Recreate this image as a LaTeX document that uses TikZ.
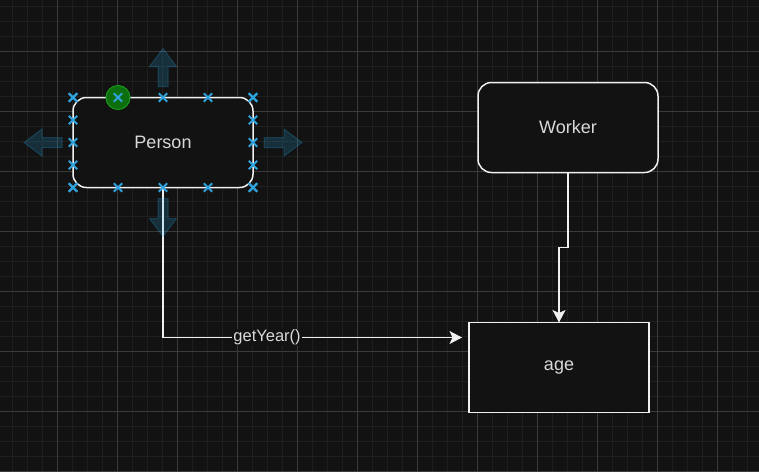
\documentclass[tikz,border=0pt]{standalone}
\usepackage{fontspec}
\setmainfont{Liberation Sans}
\usetikzlibrary{arrows.meta, calc, shapes.misc}

\definecolor{canvasbg}{HTML}{121212}
\definecolor{minorline}{HTML}{1F1F1F}
\definecolor{majorline}{HTML}{3A3A3A}
\definecolor{boxline}{HTML}{F0F0F0}
\definecolor{boxtext}{HTML}{D9D9D9}
\definecolor{selblue}{HTML}{2FA3DE}
\definecolor{hoverblue}{HTML}{29B6F2}
\definecolor{rotgreen}{HTML}{0C6E0C}
\definecolor{rotedge}{HTML}{1A9A1A}

% one of the four blue hover arrows, pointing right from the origin
\newcommand{\hoverarrow}{%
  \filldraw[hover] (11,-5) -- (31,-5) -- (31,-13.5) -- (49,0) -- (31,13.5) -- (31,5) -- (11,5) -- cycle;}

\begin{document}
\begin{tikzpicture}[x=1pt, y=-1pt]
        % Define styles for boxes, connectors and the selection overlay
        \tikzset{
            roundbox/.style={draw=boxline, fill=canvasbg, line width=1.5pt, rounded corners=13.5pt,
                minimum width=180pt, minimum height=90pt, outer sep=0pt, text=boxtext,
                font=\fontsize{18pt}{22pt}\selectfont},
            plainbox/.style={roundbox, rounded corners=0pt},
            edge/.style={draw=boxline, line width=1.5pt,
                -{Stealth[length=12.5pt, width=13pt, inset=3pt]}},
            edgelabel/.style={fill=canvasbg, text=boxtext, inner sep=1pt,
                font=\fontsize{16.5pt}{20pt}\selectfont},
            hover/.style={fill=hoverblue, fill opacity=0.18, draw=hoverblue, draw opacity=0.22, line width=1pt},
            xmark/.style={cross out, draw=selblue, line width=1.8pt, inner sep=0pt, minimum size=6.5pt},
            rothandle/.style={circle, fill=rotgreen, draw=rotedge, line width=1pt, minimum size=24pt, inner sep=0pt}
        }

        % Canvas and grid
        \useasboundingbox (0,0) rectangle (759,472);
        \fill[canvasbg] (0,0) rectangle (759,472);
        \foreach \x in {12.5,27.5,...,759} \draw[minorline, line width=1pt] (\x,0) -- (\x,472);
        \foreach \y in {6.7,21.7,...,472} \draw[minorline, line width=1pt] (0,\y) -- (759,\y);
        \foreach \x in {57.5,117.5,...,759} \draw[majorline, line width=1pt] (\x,0) -- (\x,472);
        \foreach \y in {51.7,111.7,...,472} \draw[majorline, line width=1pt] (0,\y) -- (759,\y);

        % Boxes
        \node[roundbox] (person) at (163,142.5) {Person};
        \node[roundbox] (worker) at (568,127.5) {Worker};
        \node[plainbox] (age) at (559,367.5) {age};
        \coordinate (agein) at ($(age.north west)!1/6!(age.south west)$);

        % Connectors
        \draw[edge, shorten >=7pt] (person.south) |- node[edgelabel, pos=0.67] (getyear) {getYear()} (agein);
        \draw[edge] (worker.south) -- ++(0,75) -| (age.north);

        % Hover arrows round the selected box
        \begin{scope}[shift={(person.east)}]
            \hoverarrow
        \end{scope}
        \begin{scope}[shift={(person.west)}, rotate=180]
            \hoverarrow
        \end{scope}
        \begin{scope}[shift={(person.north)}, rotate=90]
            \hoverarrow
        \end{scope}
        \begin{scope}[shift={(person.south)}, rotate=-90]
            \hoverarrow
        \end{scope}

        % Selection handles
        \node[rothandle] (rotate) at ($(person.north west)!0.25!(person.north east)$) {};
        \foreach \f [count=\i] in {0,0.25,0.5,0.75,1} {
            \node[xmark] (top\i) at ($(person.north west)!\f!(person.north east)$) {};
            \node[xmark] (bot\i) at ($(person.south west)!\f!(person.south east)$) {};
            \node[xmark] (lft\i) at ($(person.north west)!\f!(person.south west)$) {};
            \node[xmark] (rgt\i) at ($(person.north east)!\f!(person.south east)$) {};
        }

\end{tikzpicture}
\end{document}
